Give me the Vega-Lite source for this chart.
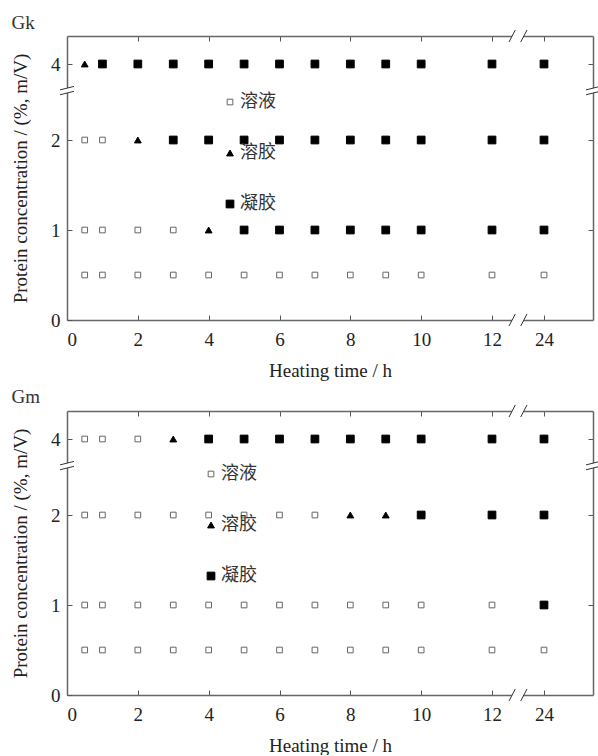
{
  "$schema": "https://vega.github.io/schema/vega-lite/v6.json",
  "background": "white",
  "padding": {"left": 11, "top": 13, "right": 0, "bottom": 0},
  "spacing": 7,
  "datasets": {
    "gk": [
      {"t": 0.5, "c": 4, "s": "溶胶"}, {"t": 1, "c": 4, "s": "凝胶"}, {"t": 2, "c": 4, "s": "凝胶"}, {"t": 3, "c": 4, "s": "凝胶"},
      {"t": 4, "c": 4, "s": "凝胶"}, {"t": 5, "c": 4, "s": "凝胶"}, {"t": 6, "c": 4, "s": "凝胶"}, {"t": 7, "c": 4, "s": "凝胶"},
      {"t": 8, "c": 4, "s": "凝胶"}, {"t": 9, "c": 4, "s": "凝胶"}, {"t": 10, "c": 4, "s": "凝胶"}, {"t": 12, "c": 4, "s": "凝胶"},
      {"t": 24, "c": 4, "s": "凝胶"},
      {"t": 0.5, "c": 2, "s": "溶液"}, {"t": 1, "c": 2, "s": "溶液"}, {"t": 2, "c": 2, "s": "溶胶"}, {"t": 3, "c": 2, "s": "凝胶"},
      {"t": 4, "c": 2, "s": "凝胶"}, {"t": 5, "c": 2, "s": "凝胶"}, {"t": 6, "c": 2, "s": "凝胶"}, {"t": 7, "c": 2, "s": "凝胶"},
      {"t": 8, "c": 2, "s": "凝胶"}, {"t": 9, "c": 2, "s": "凝胶"}, {"t": 10, "c": 2, "s": "凝胶"}, {"t": 12, "c": 2, "s": "凝胶"},
      {"t": 24, "c": 2, "s": "凝胶"},
      {"t": 0.5, "c": 1, "s": "溶液"}, {"t": 1, "c": 1, "s": "溶液"}, {"t": 2, "c": 1, "s": "溶液"}, {"t": 3, "c": 1, "s": "溶液"},
      {"t": 4, "c": 1, "s": "溶胶"}, {"t": 5, "c": 1, "s": "凝胶"}, {"t": 6, "c": 1, "s": "凝胶"}, {"t": 7, "c": 1, "s": "凝胶"},
      {"t": 8, "c": 1, "s": "凝胶"}, {"t": 9, "c": 1, "s": "凝胶"}, {"t": 10, "c": 1, "s": "凝胶"}, {"t": 12, "c": 1, "s": "凝胶"},
      {"t": 24, "c": 1, "s": "凝胶"},
      {"t": 0.5, "c": 0.5, "s": "溶液"}, {"t": 1, "c": 0.5, "s": "溶液"}, {"t": 2, "c": 0.5, "s": "溶液"}, {"t": 3, "c": 0.5, "s": "溶液"},
      {"t": 4, "c": 0.5, "s": "溶液"}, {"t": 5, "c": 0.5, "s": "溶液"}, {"t": 6, "c": 0.5, "s": "溶液"}, {"t": 7, "c": 0.5, "s": "溶液"},
      {"t": 8, "c": 0.5, "s": "溶液"}, {"t": 9, "c": 0.5, "s": "溶液"}, {"t": 10, "c": 0.5, "s": "溶液"}, {"t": 12, "c": 0.5, "s": "溶液"},
      {"t": 24, "c": 0.5, "s": "溶液"}
    ],
    "gm": [
      {"t": 0.5, "c": 4, "s": "溶液"}, {"t": 1, "c": 4, "s": "溶液"}, {"t": 2, "c": 4, "s": "溶液"}, {"t": 3, "c": 4, "s": "溶胶"},
      {"t": 4, "c": 4, "s": "凝胶"}, {"t": 5, "c": 4, "s": "凝胶"}, {"t": 6, "c": 4, "s": "凝胶"}, {"t": 7, "c": 4, "s": "凝胶"},
      {"t": 8, "c": 4, "s": "凝胶"}, {"t": 9, "c": 4, "s": "凝胶"}, {"t": 10, "c": 4, "s": "凝胶"}, {"t": 12, "c": 4, "s": "凝胶"},
      {"t": 24, "c": 4, "s": "凝胶"},
      {"t": 0.5, "c": 2, "s": "溶液"}, {"t": 1, "c": 2, "s": "溶液"}, {"t": 2, "c": 2, "s": "溶液"}, {"t": 3, "c": 2, "s": "溶液"},
      {"t": 4, "c": 2, "s": "溶液"}, {"t": 5, "c": 2, "s": "溶液"}, {"t": 6, "c": 2, "s": "溶液"}, {"t": 7, "c": 2, "s": "溶液"},
      {"t": 8, "c": 2, "s": "溶胶"}, {"t": 9, "c": 2, "s": "溶胶"}, {"t": 10, "c": 2, "s": "凝胶"}, {"t": 12, "c": 2, "s": "凝胶"},
      {"t": 24, "c": 2, "s": "凝胶"},
      {"t": 0.5, "c": 1, "s": "溶液"}, {"t": 1, "c": 1, "s": "溶液"}, {"t": 2, "c": 1, "s": "溶液"}, {"t": 3, "c": 1, "s": "溶液"},
      {"t": 4, "c": 1, "s": "溶液"}, {"t": 5, "c": 1, "s": "溶液"}, {"t": 6, "c": 1, "s": "溶液"}, {"t": 7, "c": 1, "s": "溶液"},
      {"t": 8, "c": 1, "s": "溶液"}, {"t": 9, "c": 1, "s": "溶液"}, {"t": 10, "c": 1, "s": "溶液"}, {"t": 12, "c": 1, "s": "溶液"},
      {"t": 24, "c": 1, "s": "凝胶"},
      {"t": 0.5, "c": 0.5, "s": "溶液"}, {"t": 1, "c": 0.5, "s": "溶液"}, {"t": 2, "c": 0.5, "s": "溶液"}, {"t": 3, "c": 0.5, "s": "溶液"},
      {"t": 4, "c": 0.5, "s": "溶液"}, {"t": 5, "c": 0.5, "s": "溶液"}, {"t": 6, "c": 0.5, "s": "溶液"}, {"t": 7, "c": 0.5, "s": "溶液"},
      {"t": 8, "c": 0.5, "s": "溶液"}, {"t": 9, "c": 0.5, "s": "溶液"}, {"t": 10, "c": 0.5, "s": "溶液"}, {"t": 12, "c": 0.5, "s": "溶液"},
      {"t": 24, "c": 0.5, "s": "溶液"}
    ],
    "xbreaks": [{"x": 18, "y": 0}, {"x": 18, "y": 4.31}],
    "ybreaks": [{"x": 0, "y": 3.3}, {"x": 25.4, "y": 3.3}]
  },
  "resolve": {
    "scale": {"shape": "independent", "fill": "independent", "stroke": "independent", "size": "independent"},
    "legend": {"shape": "independent", "fill": "independent", "stroke": "independent", "size": "independent"}
  },
  "vconcat": [
    {
      "title": {"text": "Gk", "offset": -5},
      "width": 526,
      "height": 284,
      "resolve": {"axis": {"x": "independent", "y": "independent"}},
      "layer": [
        {
          "data": {"name": "gk"},
          "mark": {"type": "point", "filled": true, "strokeWidth": 1, "opacity": 1},
          "encoding": {
            "x": {"field": "t", "type": "quantitative", "scale": {"domain": [0, 12, 24, 25.4], "range": [0, 425, 477, 526], "nice": false, "zero": false},
                  "axis": {"orient": "bottom", "values": [0, 2, 4, 6, 8, 10, 12, 24], "title": "Heating time / h"}},
            "y": {"field": "c", "type": "quantitative", "scale": {"domain": [0, 2, 4, 4.31], "range": [284, 104, 28, 0], "nice": false, "zero": false},
                  "axis": {"orient": "left", "values": [0, 1, 2, 4], "title": "Protein concentration / (%, m/V)"}},
            "shape": {"field": "s", "type": "nominal", "scale": {"domain": ["溶液", "溶胶", "凝胶"], "range": ["square", "triangle-up", "square"]},
                      "legend": {"orient": "none", "legendX": 154, "legendY": 57, "title": null}},
            "fill": {"field": "s", "type": "nominal", "scale": {"domain": ["溶液", "溶胶", "凝胶"], "range": ["white", "black", "black"]}},
            "stroke": {"field": "s", "type": "nominal", "scale": {"domain": ["溶液", "溶胶", "凝胶"], "range": ["#666666", "black", "black"]}},
            "size": {"field": "s", "type": "nominal", "scale": {"domain": ["溶液", "溶胶", "凝胶"], "range": [32, 60, 27]}}
          }
        },
        {
          "data": {"name": "ybreaks"},
          "mark": {"type": "point", "opacity": 0},
          "encoding": {
            "x": {"field": "x", "type": "quantitative", "scale": {"domain": [0, 12, 24, 25.4], "range": [0, 425, 477, 526], "nice": false, "zero": false},
                  "axis": {"orient": "top", "values": [2, 4, 6, 8, 10, 12, 24], "labels": false, "title": null}},
            "y": {"field": "y", "type": "quantitative", "scale": {"domain": [0, 2, 4, 4.31], "range": [284, 104, 28, 0], "nice": false, "zero": false},
                  "axis": {"orient": "right", "values": [1, 2, 4], "labels": false, "title": null}}
          }
        },
        {
          "data": {"name": "ybreaks"},
          "mark": {"type": "point", "filled": true, "fill": "white", "strokeWidth": 0, "opacity": 1, "size": 196,
                   "shape": "M-1,-0.1L1,-0.6L1,0.1L-1,0.6Z"},
          "encoding": {"x": {"field": "x", "type": "quantitative", "axis": null}, "y": {"field": "y", "type": "quantitative", "axis": null}}
        },
        {
          "data": {"name": "ybreaks"},
          "mark": {"type": "point", "filled": false, "stroke": "#333333", "strokeWidth": 1, "opacity": 1, "size": 196,
                   "shape": "M-1,-0.1L1,-0.6M-1,0.6L1,0.1"},
          "encoding": {"x": {"field": "x", "type": "quantitative", "axis": null}, "y": {"field": "y", "type": "quantitative", "axis": null}}
        },
        {
          "data": {"name": "xbreaks"},
          "mark": {"type": "point", "filled": true, "fill": "white", "strokeWidth": 0, "opacity": 1, "size": 324,
                   "shape": "M-1,0.67L-0.3,-0.67L1,-0.67L0.3,0.67Z"},
          "encoding": {"x": {"field": "x", "type": "quantitative", "axis": null}, "y": {"field": "y", "type": "quantitative", "axis": null}}
        },
        {
          "data": {"name": "xbreaks"},
          "mark": {"type": "point", "filled": false, "stroke": "#333333", "strokeWidth": 1, "opacity": 1, "size": 324,
                   "shape": "M-1,0.67L-0.3,-0.67M0.3,0.67L1,-0.67"},
          "encoding": {"x": {"field": "x", "type": "quantitative", "axis": null}, "y": {"field": "y", "type": "quantitative", "axis": null}}
        }
      ]
    },
    {
      "title": {"text": "Gm", "offset": -4},
      "width": 526,
      "height": 284,
      "resolve": {"axis": {"x": "independent", "y": "independent"}},
      "layer": [
        {
          "data": {"name": "gm"},
          "mark": {"type": "point", "filled": true, "strokeWidth": 1, "opacity": 1},
          "encoding": {
            "x": {"field": "t", "type": "quantitative", "scale": {"domain": [0, 12, 24, 25.4], "range": [0, 425, 477, 526], "nice": false, "zero": false},
                  "axis": {"orient": "bottom", "values": [0, 2, 4, 6, 8, 10, 12, 24], "title": "Heating time / h"}},
            "y": {"field": "c", "type": "quantitative", "scale": {"domain": [0, 2, 4, 4.31], "range": [284, 104, 28, 0], "nice": false, "zero": false},
                  "axis": {"orient": "left", "values": [0, 1, 2, 4], "title": "Protein concentration / (%, m/V)"}},
            "shape": {"field": "s", "type": "nominal", "scale": {"domain": ["溶液", "溶胶", "凝胶"], "range": ["square", "triangle-up", "square"]},
                      "legend": {"orient": "none", "legendX": 135, "legendY": 54, "title": null}},
            "fill": {"field": "s", "type": "nominal", "scale": {"domain": ["溶液", "溶胶", "凝胶"], "range": ["white", "black", "black"]}},
            "stroke": {"field": "s", "type": "nominal", "scale": {"domain": ["溶液", "溶胶", "凝胶"], "range": ["#666666", "black", "black"]}},
            "size": {"field": "s", "type": "nominal", "scale": {"domain": ["溶液", "溶胶", "凝胶"], "range": [32, 60, 27]}}
          }
        },
        {
          "data": {"name": "ybreaks"},
          "mark": {"type": "point", "opacity": 0},
          "encoding": {
            "x": {"field": "x", "type": "quantitative", "scale": {"domain": [0, 12, 24, 25.4], "range": [0, 425, 477, 526], "nice": false, "zero": false},
                  "axis": {"orient": "top", "values": [2, 4, 6, 8, 10, 12, 24], "labels": false, "title": null}},
            "y": {"field": "y", "type": "quantitative", "scale": {"domain": [0, 2, 4, 4.31], "range": [284, 104, 28, 0], "nice": false, "zero": false},
                  "axis": {"orient": "right", "values": [1, 2, 4], "labels": false, "title": null}}
          }
        },
        {
          "data": {"name": "ybreaks"},
          "mark": {"type": "point", "filled": true, "fill": "white", "strokeWidth": 0, "opacity": 1, "size": 196,
                   "shape": "M-1,-0.1L1,-0.6L1,0.1L-1,0.6Z"},
          "encoding": {"x": {"field": "x", "type": "quantitative", "axis": null}, "y": {"field": "y", "type": "quantitative", "axis": null}}
        },
        {
          "data": {"name": "ybreaks"},
          "mark": {"type": "point", "filled": false, "stroke": "#333333", "strokeWidth": 1, "opacity": 1, "size": 196,
                   "shape": "M-1,-0.1L1,-0.6M-1,0.6L1,0.1"},
          "encoding": {"x": {"field": "x", "type": "quantitative", "axis": null}, "y": {"field": "y", "type": "quantitative", "axis": null}}
        },
        {
          "data": {"name": "xbreaks"},
          "mark": {"type": "point", "filled": true, "fill": "white", "strokeWidth": 0, "opacity": 1, "size": 324,
                   "shape": "M-1,0.67L-0.3,-0.67L1,-0.67L0.3,0.67Z"},
          "encoding": {"x": {"field": "x", "type": "quantitative", "axis": null}, "y": {"field": "y", "type": "quantitative", "axis": null}}
        },
        {
          "data": {"name": "xbreaks"},
          "mark": {"type": "point", "filled": false, "stroke": "#333333", "strokeWidth": 1, "opacity": 1, "size": 324,
                   "shape": "M-1,0.67L-0.3,-0.67M0.3,0.67L1,-0.67"},
          "encoding": {"x": {"field": "x", "type": "quantitative", "axis": null}, "y": {"field": "y", "type": "quantitative", "axis": null}}
        }
      ]
    }
  ],
  "config": {
    "font": "Liberation Serif",
    "view": {"stroke": null},
    "title": {"anchor": "start", "frame": "bounds", "font": "Liberation Serif", "fontSize": 19, "fontWeight": "normal", "color": "#333333"},
    "axis": {
      "grid": false,
      "domainColor": "#666666",
      "domainWidth": 1.5,
      "tickColor": "#555555",
      "tickWidth": 1,
      "tickSize": -5,
      "labelFont": "Liberation Serif",
      "labelFontSize": 19,
      "labelColor": "#222222",
      "titleFont": "Liberation Serif",
      "titleFontSize": 19,
      "titleFontWeight": "normal",
      "titleColor": "#222222"
    },
    "axisX": {"labelPadding": 15, "titlePadding": 12},
    "axisY": {"labelPadding": 12, "titlePadding": 20},
    "legend": {
      "labelFont": "Noto Sans CJK SC",
      "labelFontSize": 18,
      "labelColor": "#333333",
      "rowPadding": 33,
      "labelOffset": 1,
      "symbolStrokeWidth": 1
    }
  }
}
